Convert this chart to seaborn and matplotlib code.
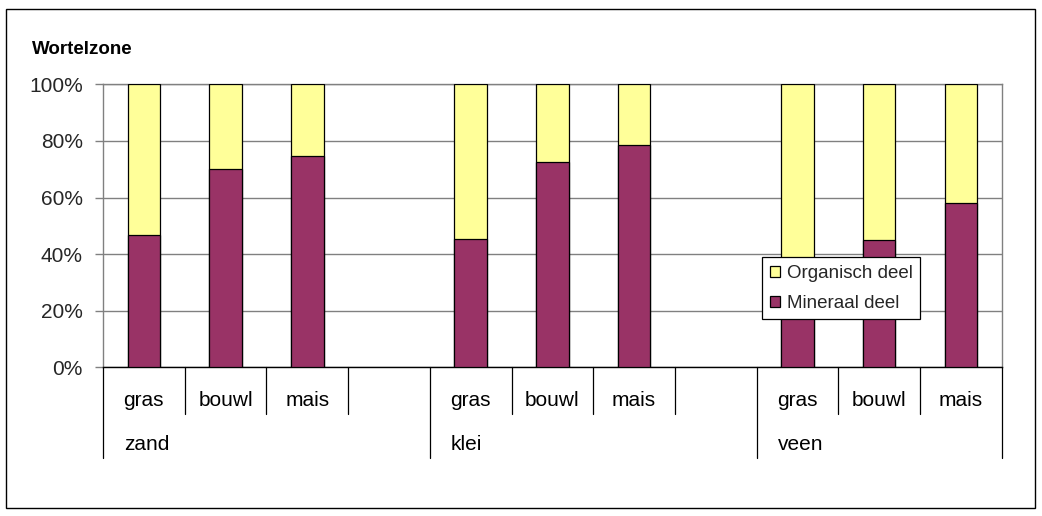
import matplotlib
matplotlib.use("Agg")
import matplotlib.pyplot as plt
from matplotlib.patches import Patch, Rectangle
from matplotlib.transforms import blended_transform_factory
import seaborn as sns
import pandas as pd

# Soil types (outer level) and land uses (inner level)
soils = ["zand", "klei", "veen"]
land_uses = ["gras", "bouwl", "mais"]

# Share of the mineral part in the root zone (%), per soil type and land use
mineraal_zand = [46.7, 70.0, 74.7]
mineraal_klei = [45.2, 72.4, 78.7]
mineraal_veen = [30.0, 45.1, 58.1]

series_labels = ["Organisch deel", "Mineraal deel"]
y_ticks = [0, 20, 40, 60, 80, 100]

sns.set_theme(style="white")
plt.rcParams["font.family"] = ["Liberation Sans", "DejaVu Sans"]

rows = []
for soil, vals in zip(soils, [mineraal_zand, mineraal_klei, mineraal_veen]):
    for use, v in zip(land_uses, vals):
        rows.append({"slot": f"{soil}|{use}", "mineraal": v, "totaal": 100.0})
df = pd.DataFrame(rows)

# Slot order: each soil block has three land uses, with an empty slot between blocks
order = []
for i, soil in enumerate(soils):
    order += [f"{soil}|{u}" for u in land_uses]
    if i < len(soils) - 1:
        order.append(f"{soil}|")

W, H = 1042, 516
fig = plt.figure(figsize=(W / 100, H / 100), dpi=100)
ax = fig.add_axes([103 / W, 1 - 367.3 / H, (1001.7 - 103) / W, (367.3 - 84.3) / H])

yellow = "#FFFF99"
maroon = "#993366"
label_size = 15

sns.barplot(data=df, x="slot", y="totaal", order=order, color=yellow, width=0.4,
            edgecolor="black", linewidth=0.9, saturation=1, ax=ax, zorder=3)
sns.barplot(data=df, x="slot", y="mineraal", order=order, color=maroon, width=0.4,
            edgecolor="black", linewidth=0.9, saturation=1, ax=ax, zorder=4)

ax.set_xlim(-0.5, len(order) - 0.5)
ax.set_ylim(0, 100)
ax.set_yticks(y_ticks)
ax.set_yticklabels([f"{t}%" for t in y_ticks], fontsize=label_size)
ax.tick_params(axis="y", which="major", length=6, width=1, color="#808080",
               pad=8.5, left=True, direction="out")
ax.tick_params(axis="x", bottom=False, labelbottom=False)
ax.set_xlabel("")
ax.set_ylabel("")
ax.yaxis.grid(True, color="#808080", linewidth=1)
ax.set_axisbelow(True)
for side in ["left", "right", "top"]:
    ax.spines[side].set_color("#808080")
    ax.spines[side].set_linewidth(1)
ax.spines["bottom"].set_color("black")
ax.spines["bottom"].set_linewidth(1)

# Two-level category axis drawn beneath the plot
trans = blended_transform_factory(ax.transData, ax.transAxes)
ax_h = 367.3 - 84.3
short_y = -46.7 / ax_h
long_y = -90.7 / ax_h
n = len(order)
group_edges = [-0.5]
for k, s in enumerate(order):
    if s.endswith("|"):
        group_edges.append(k + 0.5)
group_edges.append(n - 0.5)
for k in range(n + 1):
    xb = k - 0.5
    y_end = long_y if any(abs(xb - g) < 1e-9 for g in group_edges) else short_y
    ax.plot([xb, xb], [0, y_end], transform=trans, color="black", linewidth=0.9,
            clip_on=False, zorder=5)

for k, s in enumerate(order):
    use = s.split("|")[1]
    if use:
        ax.text(k, -33.7 / ax_h, use, transform=trans, ha="center", va="center",
                fontsize=label_size, color="black")
for g, soil in zip(group_edges[:-1], soils):
    ax.text(g + 21 / 81.7, -77.7 / ax_h, soil, transform=trans, ha="left",
            va="center", fontsize=label_size, color="black")

# Legend
handles = [Patch(facecolor=yellow, edgecolor="black", linewidth=0.9),
           Patch(facecolor=maroon, edgecolor="black", linewidth=0.9)]
leg = fig.legend(handles, series_labels, loc="upper left",
                 bbox_to_anchor=(762.3 / W, 1 - 257.3 / H), borderaxespad=0,
                 fontsize=13.5, frameon=True, fancybox=False, framealpha=1,
                 handlelength=0.55, handleheight=0.55, handletextpad=0.35,
                 labelspacing=0.7, borderpad=0.4)
leg.get_frame().set_edgecolor("black")
leg.get_frame().set_linewidth(0.9)
leg.set_zorder(10)

# Title and outer chart frame
fig.text(32 / W, 1 - 50 / H, "Wortelzone", fontsize=13.5, fontweight="bold",
         ha="left", va="center", color="black")
fig.patches.append(Rectangle((6 / W, 1 - 508 / H), (1035 - 6) / W, (508 - 9) / H,
                             transform=fig.transFigure, fill=False,
                             edgecolor="black", linewidth=1))

fig.savefig("out.png", dpi=100)
